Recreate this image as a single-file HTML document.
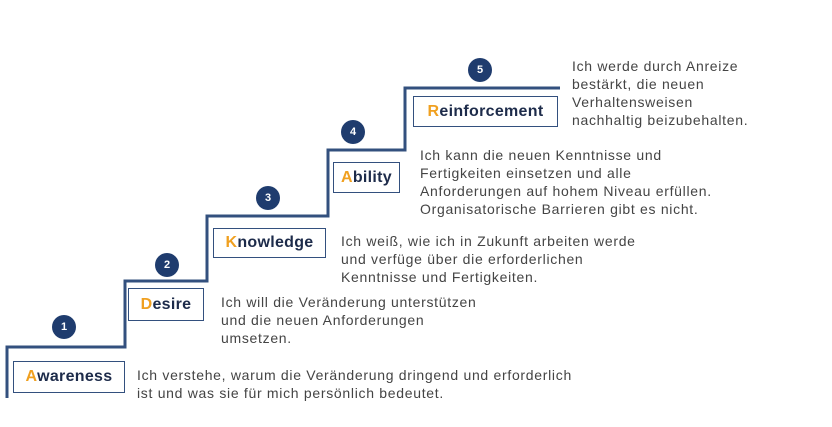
<!DOCTYPE html>
<html><head><meta charset="utf-8"><style>
body{margin:0;width:832px;height:427px;background:#fff;position:relative;overflow:hidden;font-family:"Liberation Sans",sans-serif}
.b{position:absolute;border:1.5px solid #33507e;background:#fff;font-weight:bold;color:#1d2b4a;font-size:16px;display:flex;align-items:center;justify-content:center;box-sizing:border-box;letter-spacing:0.3px}
.b span{color:#f0a020}
.c{position:absolute;width:24px;height:24px;border-radius:50%;background:#1f3c6e;color:#fff;font-size:11px;font-weight:bold;display:flex;align-items:center;justify-content:center}
.t{position:absolute;font-size:14px;line-height:18px;color:#444;letter-spacing:0.7px}
</style></head><body>
<svg width="832" height="427" style="position:absolute;left:0;top:0">
<polyline points="7,398 7,347 125,347 125,281 207,281 207,216 328,216 328,150 405,150 405,88 560,88" fill="none" stroke="#33507e" stroke-width="3"/>
</svg>
<div class="c" style="left:52px;top:315px">1</div>
<div class="c" style="left:155px;top:253px">2</div>
<div class="c" style="left:256px;top:186px">3</div>
<div class="c" style="left:341px;top:120px">4</div>
<div class="c" style="left:468px;top:58px">5</div>
<div class="b" style="left:13px;top:361px;width:112px;height:32px"><div><span>A</span>wareness</div></div>
<div class="b" style="left:128px;top:288px;width:76px;height:33px"><div><span>D</span>esire</div></div>
<div class="b" style="left:213px;top:228px;width:113px;height:30px"><div><span>K</span>nowledge</div></div>
<div class="b" style="left:333px;top:162px;width:67px;height:31px"><div><span>A</span>bility</div></div>
<div class="b" style="left:413px;top:96px;width:145px;height:31px"><div><span>R</span>einforcement</div></div>
<div class="t" style="left:137px;top:366px">Ich verstehe, warum die Veränderung dringend und erforderlich<br>ist und was sie für mich persönlich bedeutet.</div>
<div class="t" style="left:221px;top:293px">Ich will die Veränderung unterstützen<br>und die neuen Anforderungen<br>umsetzen.</div>
<div class="t" style="left:341px;top:232px">Ich weiß, wie ich in Zukunft arbeiten werde<br>und verfüge über die erforderlichen<br>Kenntnisse und Fertigkeiten.</div>
<div class="t" style="left:420px;top:146px">Ich kann die neuen Kenntnisse und<br>Fertigkeiten einsetzen und alle<br>Anforderungen auf hohem Niveau erfüllen.<br>Organisatorische Barrieren gibt es nicht.</div>
<div class="t" style="left:572px;top:57px">Ich werde durch Anreize<br>bestärkt, die neuen<br>Verhaltensweisen<br>nachhaltig beizubehalten.</div>
</body></html>
